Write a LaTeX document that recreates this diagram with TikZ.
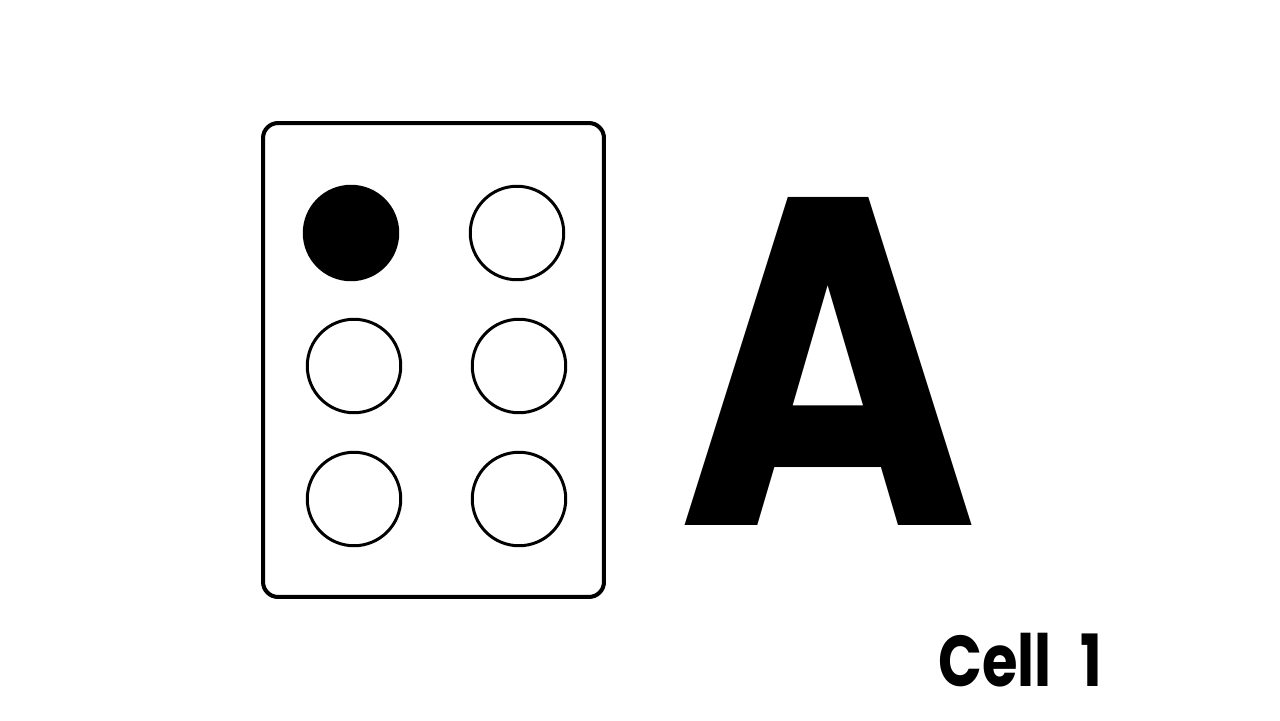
\documentclass[tikz,border=0pt]{standalone}
\usepackage{fontspec}
\newfontfamily\glyphfont{Poppins}
\usetikzlibrary{positioning}

\begin{document}
\begin{tikzpicture}[
  x=0.02cm, y=-0.02cm,
  cellbox/.style={draw, line width=2.3pt, rounded corners=0.3cm,
                  minimum width=6.82cm, minimum height=9.48cm},
  dot/.style={draw, circle, line width=1.7pt, minimum size=1.87cm, inner sep=0pt},
  raised/.style={dot, fill=black},
  letter/.style={font=\glyphfont\bfseries\fontsize{266}{266}\selectfont,
                 inner sep=0pt, anchor=base, xscale=0.87},
  caption/.style={font=\glyphfont\bfseries\fontsize{41}{41}\selectfont,
                  inner sep=0pt, anchor=base west, xscale=0.8},
]
\useasboundingbox (0,0) rectangle (1280,720);
% ---- braille cell ----
\node[cellbox] (cell) at (433.5,360) {};
\node[raised] (dot1) at (351,233) {};
\node[dot] (dot4) at (517,233) {};
\node[dot] (dot2) at (354,366) {};
\node[dot] (dot5) at (519,366) {};
\node[dot] (dot3) at (354,499) {};
\node[dot] (dot6) at (519,499) {};
% ---- letter and caption ----
\node[letter] (letterA) at (828,525) {A};
\node[caption] (label) at (938,686) {Cell\hspace{0.5em}1};
\end{tikzpicture}
\end{document}
